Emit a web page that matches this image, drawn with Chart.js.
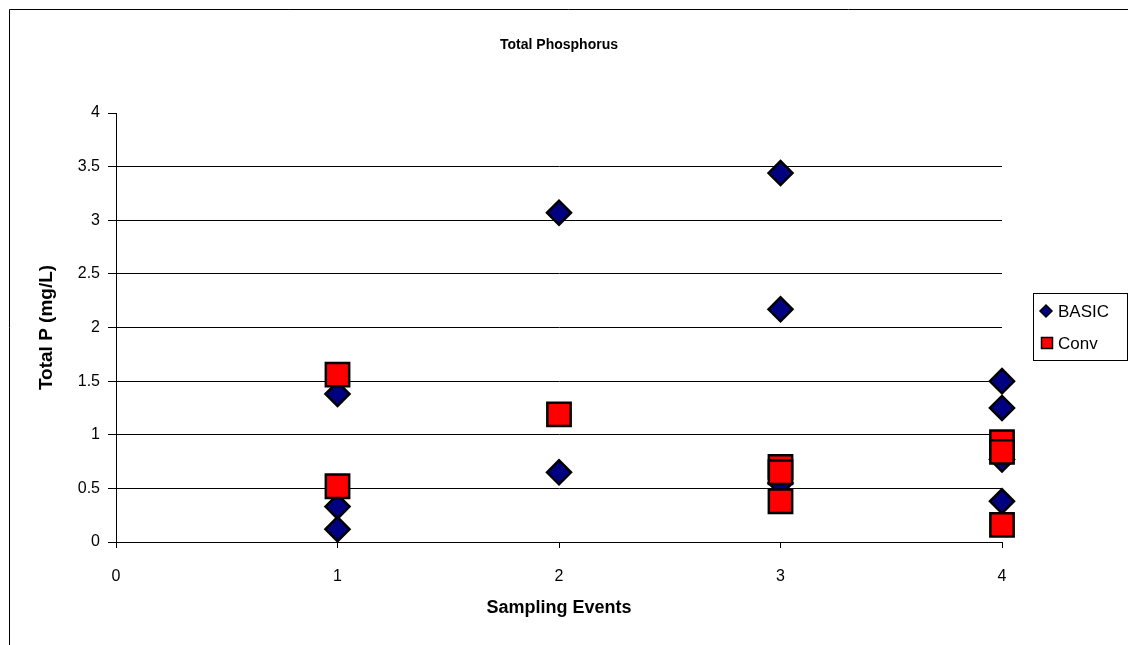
<!DOCTYPE html>
<html><head><meta charset="utf-8">
<script src="https://cdn.jsdelivr.net/npm/chart.js@4/dist/chart.umd.min.js"></script>
<style>html,body{margin:0;padding:0;background:#fff}#wrap{width:1128px;height:645px;position:relative}</style>
</head><body><div id="wrap"><canvas id="c" width="1128" height="645"></canvas></div>
<script>
const chartTitle = 'Total Phosphorus';
const xTitle = 'Sampling Events';
const yTitle = 'Total P (mg/L)';
const basicLabel = 'BASIC';
const convLabel = 'Conv';
const basicX = [1, 1, 1, 2, 2, 3, 3, 3, 4, 4, 4, 4];
const basicY = [1.38, 0.33, 0.12, 3.07, 0.65, 3.44, 2.17, 0.55, 1.50, 1.25, 0.77, 0.38];
const convX = [1, 1, 2, 3, 3, 3, 4, 4, 4];
const convY = [1.56, 0.52, 1.19, 0.70, 0.65, 0.38, 0.93, 0.84, 0.16];
const yTicks = [0, 0.5, 1, 1.5, 2, 2.5, 3, 3.5, 4];
const xTicks = [0, 1, 2, 3, 4];

const FONT = "'Liberation Sans', Arial, sans-serif";
const basicColor = '#000080';
const convColor = '#FF0000';

const frame = {
  id: 'frame',
  beforeDraw(chart) {
    const c = chart.ctx;
    c.save();
    c.fillStyle = '#fff';
    c.fillRect(0, 0, chart.width, chart.height);
    c.strokeStyle = '#000';
    c.lineWidth = 1;
    c.beginPath();
    c.moveTo(9.5, chart.height);
    c.lineTo(9.5, 9.5);
    c.lineTo(chart.width, 9.5);
    c.stroke();
    c.restore();
  }
};

const boxLegend = {
  id: 'boxLegend',
  afterDraw(chart) {
    const c = chart.ctx;
    c.save();
    c.strokeStyle = '#000';
    c.lineWidth = 1;
    c.strokeRect(1033.5, 293.5, 94, 67);
    const ds = chart.data.datasets;
    c.font = '17px ' + FONT;
    c.textBaseline = 'middle';
    c.textAlign = 'left';
    c.fillStyle = ds[0].backgroundColor;
    c.strokeStyle = '#000';
    c.lineWidth = 1.5;
    c.beginPath();
    c.moveTo(1046, 305); c.lineTo(1052, 311); c.lineTo(1046, 317); c.lineTo(1040, 311); c.closePath();
    c.fill(); c.stroke();
    c.fillStyle = '#000';
    c.fillText(ds[0].label, 1058, 312);
    c.fillStyle = ds[1].backgroundColor;
    c.beginPath();
    c.rect(1041.5, 337.5, 11, 11);
    c.fill(); c.stroke();
    c.fillStyle = '#000';
    c.fillText(ds[1].label, 1058, 344);
    c.restore();
  }
};

const toPts = (xs, ys) => xs.map((x, i) => ({ x: x, y: ys[i] }));

new Chart(document.getElementById('c'), {
  type: 'scatter',
  data: {
    datasets: [
      {
        label: basicLabel,
        data: toPts(basicX, basicY),
        pointStyle: 'rectRot',
        pointRadius: 12,
        pointHoverRadius: 12,
        backgroundColor: basicColor,
        borderColor: '#000',
        borderWidth: 2.5,
        clip: false,
        order: 2
      },
      {
        label: convLabel,
        data: toPts(convX, convY),
        pointStyle: 'rect',
        pointRadius: 16.5,
        pointHoverRadius: 16.5,
        backgroundColor: convColor,
        borderColor: '#000',
        borderWidth: 2.5,
        clip: false,
        order: 1
      }
    ]
  },
  options: {
    responsive: false,
    animation: false,
    devicePixelRatio: 1,
    layout: { padding: { left: 0, right: 126, top: 0, bottom: 0 } },
    plugins: {
      legend: { display: false },
      tooltip: { enabled: false },
      title: {
        display: true,
        text: chartTitle,
        fullSize: false,
        color: '#000',
        font: { family: FONT, size: 14, weight: 'bold' },
        padding: { top: 36.6, bottom: 59.6 }
      }
    },
    scales: {
      x: {
        type: 'linear',
        min: 0,
        max: 4,
        afterFit(s) { s.height = 103; },
        afterBuildTicks(s) { s.ticks = xTicks.map(v => ({ value: v })); },
        ticks: { color: '#000', font: { family: FONT, size: 16 }, padding: 19, maxRotation: 0, callback: (v) => String(v) },
        grid: { display: true, drawOnChartArea: false, drawTicks: true, tickLength: 6, tickColor: '#000' },
        border: { display: true, color: '#000', width: 1 },
        title: { display: true, text: xTitle, color: '#000', font: { family: FONT, size: 18, weight: 'bold' }, padding: { top: 0, bottom: 26.2 } }
      },
      y: {
        type: 'linear',
        min: 0,
        max: 4,
        afterFit(s) { s.width = 116; },
        afterBuildTicks(s) { s.ticks = yTicks.map(v => ({ value: v })); },
        ticks: { color: '#000', font: { family: FONT, size: 16 }, padding: 8, callback: (v) => String(v) },
        grid: {
          color: (ctx) => (ctx.tick && ctx.tick.value === 4) ? 'rgba(0,0,0,0)' : '#000',
          tickColor: '#000',
          tickLength: 8,
          lineWidth: 1
        },
        border: { display: true, color: '#000', width: 1 },
        title: { display: true, text: yTitle, color: '#000', font: { family: FONT, size: 19, weight: 'bold' }, padding: { top: 35.6, bottom: 0 } }
      }
    }
  },
  plugins: [frame, boxLegend]
});
</script>
</body></html>
